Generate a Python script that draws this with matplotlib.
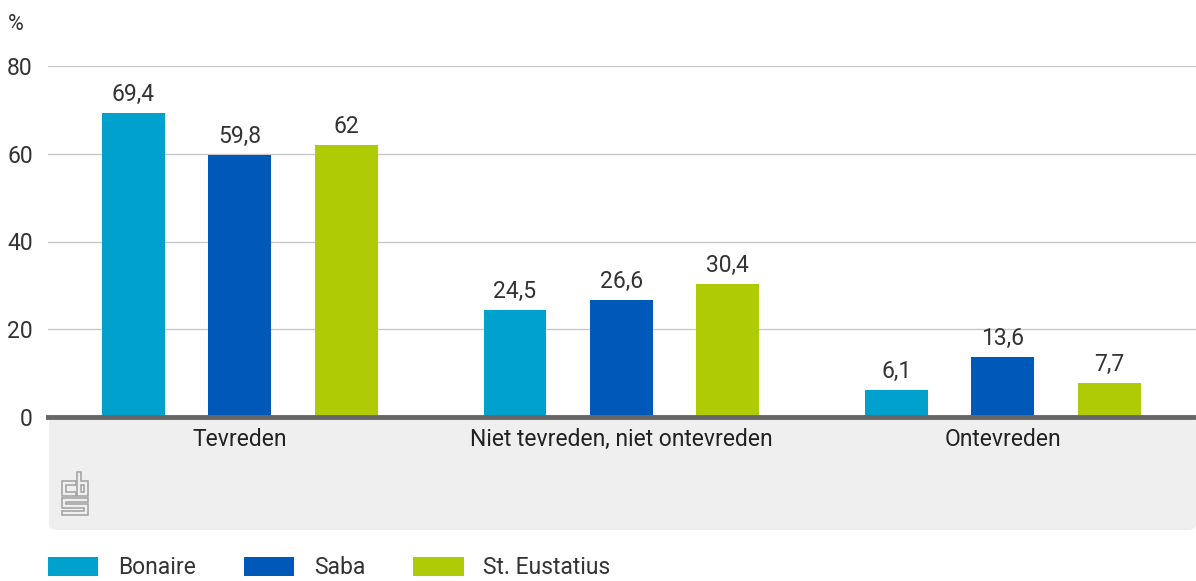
import matplotlib
matplotlib.use("Agg")
import matplotlib.pyplot as plt
import numpy as np
from matplotlib.patches import FancyBboxPatch, Patch, Polygon

plt.rcParams['font.family'] = ['Roboto', 'DejaVu Sans']

categories = ["Tevreden", "Niet tevreden, niet ontevreden", "Ontevreden"]
series = ["Bonaire", "Saba", "St. Eustatius"]
bonaire = [69.4, 24.5, 6.1]
saba = [59.8, 26.6, 13.6]
eustatius = [62.0, 30.4, 7.7]
yticks = [0, 20, 40, 60, 80]
colors = ["#00A1CD", "#0058B8", "#AFCB05"]

W, H = 1196, 581
fig = plt.figure(figsize=(W / 100, H / 100), dpi=100)
FS = 16.5
TC = "#333333"

def fx(px):
    return px / W

def fy(py):
    return 1 - py / H

# gray panel below the axis
panel = FancyBboxPatch((fx(49), fy(530)), fx(1196) - fx(49), fy(417) - fy(530),
                       boxstyle="round,pad=0,rounding_size=0.008",
                       transform=fig.transFigure, facecolor="#efefef",
                       edgecolor="none", zorder=-1)
fig.patches.append(panel)

ax = fig.add_axes([fx(48), fy(417), 1 - fx(48), fy(66) - fy(417)])
ax.set_facecolor("none")
x = np.arange(len(categories))
offset = 0.279
width = 0.165
data = [bonaire, saba, eustatius]
for i, (vals, col) in enumerate(zip(data, colors)):
    bars = ax.bar(x + (i - 1) * offset, vals, width, color=col, zorder=3)
    labels = [("%g" % v).replace(".", ",") for v in vals]
    ax.bar_label(bars, labels=labels, padding=5, fontsize=FS, color=TC)

ax.set_xlim(-0.503, 2.506)
ax.set_ylim(0, 80)
ax.set_yticks(yticks)
ax.set_yticklabels([str(t) for t in yticks], fontsize=FS, color=TC)
ax.tick_params(axis="y", length=0, pad=11)
ax.set_xticks(x)
ax.set_xticklabels(categories, fontsize=FS, color="#222222")
ax.tick_params(axis="x", length=0, pad=8)
for t in yticks[1:]:
    ax.axhline(t, color="#c8c8c8", lw=1, zorder=1)
for s in ["top", "right", "left"]:
    ax.spines[s].set_visible(False)
ax.spines["bottom"].set_color("#666666")
ax.spines["bottom"].set_linewidth(3.5)
ax.spines["bottom"].set_zorder(4)

fig.text(fx(8), fy(25), "%", fontsize=FS - 1, color=TC, va="center", ha="left")

# CBS logo (simplified outline)
lc = "#a0a0a0"
def P(pts):
    fig.patches.append(Polygon([(fx(a), fy(b)) for a, b in pts], closed=True,
                               fill=False, edgecolor=lc, lw=1.1,
                               transform=fig.transFigure))
P([(76, 481), (62, 481), (62, 496), (76, 496), (76, 492), (66, 492), (66, 485), (76, 485)])
P([(77, 472), (81, 472), (81, 481), (88, 481), (88, 496), (77, 496)])
P([(81, 485), (84, 485), (84, 492), (81, 492)])
P([(88, 498), (62, 498), (62, 508), (84, 508), (84, 511), (62, 511), (62, 515),
   (88, 515), (88, 504), (66, 504), (66, 502), (88, 502)])

handles = [Patch(facecolor=c, edgecolor="none") for c in colors]
fig.legend(handles, series, loc="center left", bbox_to_anchor=(fx(48), fy(568)),
           ncol=3, frameon=False, fontsize=FS, handlelength=2.2, handleheight=0.9,
           handletextpad=0.85, columnspacing=2.1, labelcolor=TC,
           borderpad=0, borderaxespad=0)

fig.savefig("out.png", dpi=100)
